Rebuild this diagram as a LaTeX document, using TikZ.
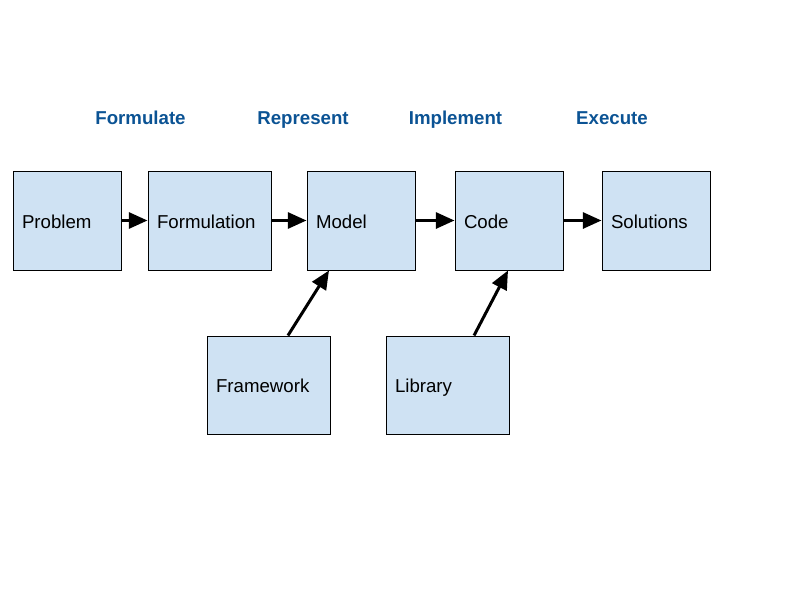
\documentclass[tikz,border=0pt]{standalone}
\usepackage{fontspec}
\setmainfont{Liberation Sans}
\usetikzlibrary{arrows.meta}
\definecolor{boxfill}{HTML}{CFE2F3}
\definecolor{stagecol}{HTML}{0B5394}
\begin{document}
\begin{tikzpicture}[x=0.75pt,y=-0.75pt,
  box/.style={draw=black,line width=0.75pt,fill=boxfill,rectangle,minimum height=74.25pt,inner xsep=6.75pt,inner ysep=0pt,text height=11.5pt,text depth=0pt,align=left,font=\fontsize{14}{16}\selectfont},
  narrowbox/.style={box,text width=67.5pt},
  widebox/.style={box,text width=78.75pt},
  stage/.style={text=stagecol,text height=10pt,text depth=0pt,font=\fontsize{14}{16}\selectfont\bfseries},
  conn/.style={line width=2.25pt,-{Triangle[length=14pt,width=12pt]}}]
\useasboundingbox (0,0) rectangle (800,600);
\node[stage] (s1) at (140.5,118) {Formulate};
\node[stage] (s2) at (303,118) {Represent};
\node[stage] (s3) at (455.5,118) {Implement};
\node[stage] (s4) at (612,118) {Execute};
\node[narrowbox] (prob) at (67,220.5) {Problem};
\node[widebox] (form) at (209.5,220.5) {Formulation};
\node[narrowbox] (model) at (361,220.5) {Model};
\node[narrowbox] (code) at (509,220.5) {Code};
\node[narrowbox] (sol) at (656,220.5) {Solutions};
\node[widebox,minimum height=73.5pt] (fw) at (268.5,385) {Framework};
\node[widebox,minimum height=73.5pt] (lib) at (447.5,385) {Library};
\draw[conn] (prob.east) -- (form.west);
\draw[conn] (form.east) -- (model.west);
\draw[conn] (model.east) -- (code.west);
\draw[conn] (code.east) -- (sol.west);
\draw[conn] ([xshift=14.6pt]fw.north) -- ([xshift=-24pt]model.south);
\draw[conn] ([xshift=19.9pt]lib.north) -- ([xshift=-0.75pt]code.south);
\end{tikzpicture}
\end{document}
